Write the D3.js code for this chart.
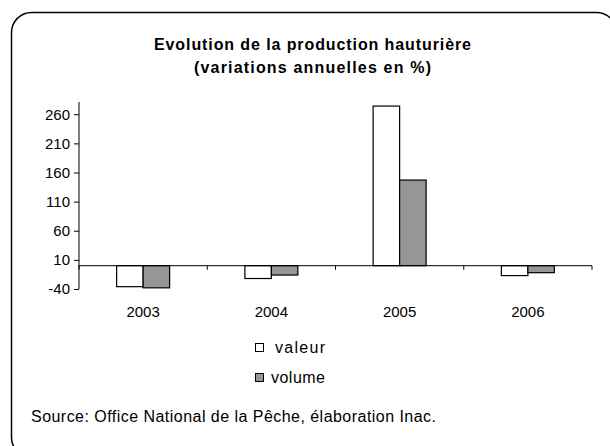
<!DOCTYPE html>
<html>
<head>
<meta charset="utf-8">
<script src="https://cdn.jsdelivr.net/npm/d3@7"></script>
<style>
    body { margin: 0; background: #fff; }
    text { font-family: "Liberation Sans", Arial, sans-serif; fill: #000; }
</style>
</head>
<body>
<div id="chart"></div>
<script>
// data
let years = ["2003", "2004", "2005", "2006"];
let valeur = [-36, -22, 274, -17];
let volume = [-38, -16, 147, -12];
let yTicks = [-40, 10, 60, 110, 160, 210, 260];
let seriesNames = ["valeur", "volume"];
let seriesColors = ["#ffffff", "#969696"];

let width = 610, height = 446;
let margin = { top: 102, right: 18, bottom: 157, left: 79 };

let svg = d3.select("#chart").append("svg")
    .attr("width", width)
    .attr("height", height);

// frame
svg.append("rect")
    .attr("x", 11.5).attr("y", 12.5)
    .attr("width", 605).attr("height", 445)
    .attr("rx", 20).attr("ry", 20)
    .attr("fill", "none")
    .attr("stroke", "#000")
    .attr("stroke-width", 1.5);

// title (Excel renders it wider, so stretch a little)
svg.append("text")
    .attr("x", 154).attr("y", 50)
    .attr("font-weight", "bold")
    .attr("font-size", 16)
    .attr("textLength", 317)
    .attr("lengthAdjust", "spacing")
    .text("Evolution de la production hauturière");
svg.append("text")
    .attr("x", 194).attr("y", 73)
    .attr("font-weight", "bold")
    .attr("font-size", 16)
    .attr("textLength", 237)
    .attr("lengthAdjust", "spacing")
    .text("(variations annuelles en %)");

let g = svg.append("g")
    .attr("transform", "translate(" + margin.left + "," + margin.top + ")");

let w = width - margin.left - margin.right;
let h = height - margin.top - margin.bottom;

// scales
let x = d3.scaleBand()
    .domain(years)
    .range([0, w]);

let x1 = d3.scaleBand()
    .domain(seriesNames)
    .range([0, x.bandwidth()])
    .paddingOuter(1.42)
    .paddingInner(0);

let y = d3.scaleLinear()
    .domain([-40, 281])
    .range([h, 0]);

let color = d3.scaleOrdinal()
    .domain(seriesNames)
    .range(seriesColors);

// y axis
let yAxis = d3.axisLeft(y)
    .tickValues(yTicks)
    .tickFormat(d => String(d))
    .tickSize(5)
    .tickPadding(4);

let yAxisGroup = g.append("g")
    .call(yAxis);
yAxisGroup.select(".domain").attr("d", "M0," + h + "V0");
yAxisGroup.selectAll("text")
    .attr("font-size", 15)
    .style("font-family", "Liberation Sans, Arial, sans-serif");

// bars
let rows = years.map((yr, i) => ({ year: yr, values: [
    { key: "valeur", value: valeur[i] },
    { key: "volume", value: volume[i] }
]}));

g.selectAll(".year")
    .data(rows)
    .enter().append("g")
    .attr("class", "year")
    .attr("transform", d => "translate(" + x(d.year) + ",0)")
    .selectAll("rect")
    .data(d => d.values)
    .enter().append("rect")
    .attr("x", d => x1(d.key))
    .attr("width", x1.bandwidth())
    .attr("y", d => y(Math.max(0, d.value)))
    .attr("height", d => Math.abs(y(d.value) - y(0)))
    .attr("fill", d => color(d.key))
    .attr("stroke", "#000")
    .attr("stroke-width", 1.2);

// x axis on zero line
let xAxisGroup = g.append("g")
    .attr("transform", "translate(0," + y(0) + ")");
xAxisGroup.append("line")
    .attr("x1", 0).attr("x2", w)
    .attr("stroke", "#000");
xAxisGroup.selectAll(".tick")
    .data(d3.range(years.length + 1))
    .enter().append("line")
    .attr("x1", d => d * x.step()).attr("x2", d => d * x.step())
    .attr("y1", 0).attr("y2", 4)
    .attr("stroke", "#000");

// category labels below the plot
g.selectAll(".cat")
    .data(years)
    .enter().append("text")
    .attr("class", "cat")
    .attr("x", d => x(d) + x.bandwidth() / 2)
    .attr("y", h + 28)
    .attr("text-anchor", "middle")
    .attr("font-size", 15)
    .text(d => d);

// legend
let legend = svg.append("g")
    .attr("transform", "translate(255,343)");
let legendWidths = [50, 54];
seriesNames.forEach((s, i) => {
    legend.append("rect")
        .attr("x", 0.5)
        .attr("y", i * 30 + 0.5)
        .attr("width", 8).attr("height", 8)
        .attr("fill", color(s))
        .attr("stroke", "#000");
    legend.append("text")
        .attr("x", i == 0 ? 20 : 16)
        .attr("y", i * 30 + 9.5)
        .attr("font-size", 16)
        .attr("textLength", legendWidths[i])
        .attr("lengthAdjust", "spacing")
        .text(s);
});

// source
svg.append("text")
    .attr("x", 31).attr("y", 422)
    .attr("font-size", 16)
    .attr("textLength", 405)
    .attr("lengthAdjust", "spacing")
    .text("Source: Office National de la Pêche, élaboration Inac.");
</script>
</body>
</html>
